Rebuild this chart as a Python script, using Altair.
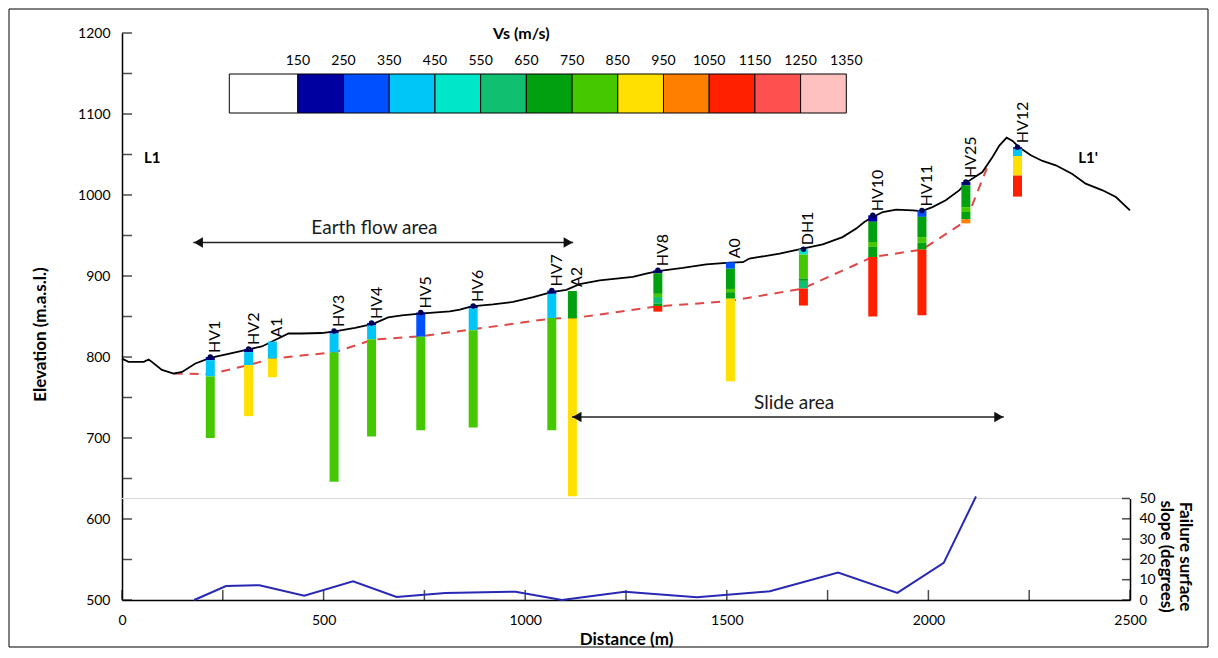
import altair as alt
import pandas as pd

# ---------------- data ----------------
profile_dist = [0, 16, 54, 66, 74, 99, 128, 149, 182, 219, 264, 314, 347, 376, 413, 446, 495, 528,
                578, 623, 660, 694, 739, 813, 838, 867, 920, 970, 1020, 1065, 1102, 1135, 1185,
                1267, 1300, 1329, 1391, 1449, 1507, 1540, 1556, 1581, 1631, 1688, 1738, 1787, 1821,
                1841, 1862, 1887, 1920, 1961, 1984, 2010, 2043, 2077, 2093, 2134, 2159, 2176, 2194,
                2209, 2225, 2254, 2283, 2316, 2357, 2390, 2432, 2465, 2500]
profile_elev = [798, 794, 794, 797, 794, 784, 779.5, 781.5, 792, 799, 804, 809.5, 813, 820, 829, 829,
                829.6, 831.7, 836, 841, 849, 851.5, 853.6, 856.4, 858.5, 862.6, 865, 868, 874, 880,
                883, 890, 894.7, 898.8, 903, 906, 910, 914.4, 916.5, 917, 921.5, 923.5, 927.6, 933.8,
                939, 948, 958.5, 966.7, 972.8, 979, 982, 981, 980, 985, 993.5, 1006, 1015, 1028.4,
                1047, 1061, 1070.8, 1066.7, 1059, 1049, 1042, 1036.7, 1026, 1014, 1005.8, 997.5, 981]

failure_dist = [128, 219, 314, 372, 528, 623, 739, 867, 1065, 1119, 1329, 1507, 1688, 1862, 1984, 2093, 2145]
failure_elev = [779.5, 779, 790, 798, 806, 821.5, 825.5, 834, 847.5, 848, 862.5, 869, 884.5, 923.5, 932.5, 968, 1033]

slope_dist = [179, 258, 341, 452, 573, 681, 802, 976, 1091, 1247, 1426, 1607, 1776, 1923, 2038, 2118]
slope_deg = [0, 6.9, 7.3, 2.1, 9.2, 1.5, 3.5, 4.1, 0, 4.1, 1.3, 4.3, 13.5, 3.5, 18.3, 51]

bh_names = ["HV1", "HV2", "A1", "HV3", "HV4", "HV5", "HV6", "HV7", "A2", "HV8", "A0", "DH1",
            "HV10", "HV11", "HV25", "HV12"]
bh_dist = [219, 314, 373, 526, 619, 741, 871, 1066, 1117, 1329, 1509, 1690, 1862, 1984, 2093, 2221]
bh_bounds = [
    [800, 796, 776, 700],
    [810, 806, 790, 727],
    [819, 798, 775],
    [832, 829, 805.5, 646],
    [842, 839, 822, 702],
    [855, 852, 825, 709.5],
    [863, 860, 833, 713],
    [882, 878, 848, 709.5],
    [881.5, 847.5, 628],
    [907, 903.5, 878, 874, 866, 863, 856],
    [917, 909, 884, 880, 872, 770],
    [933, 926.5, 897, 894, 884.5, 863.5],
    [975, 967, 942, 936, 923.5, 850],
    [981, 973, 948, 941, 932.5, 851.5],
    [1016, 1012, 985, 979, 970, 965],
    [1059, 1057, 1048, 1024, 998],
]
bh_vs = [
    [200, 400, 800],
    [200, 400, 900],
    [400, 900],
    [200, 400, 800],
    [200, 400, 800],
    [200, 300, 800],
    [200, 400, 800],
    [200, 400, 800],
    [700, 900],
    [200, 700, 800, 600, 700, 1100],
    [300, 700, 800, 700, 900],
    [500, 800, 700, 600, 1100],
    [200, 700, 800, 700, 1100],
    [300, 700, 800, 700, 1100],
    [200, 700, 800, 700, 1000],
    [200, 400, 900, 1100],
]
bh_dot = [True, True, False, True, True, True, True, True, False, True, False, True,
          True, True, True, True]

vs_edges = [0, 150, 250, 350, 450, 550, 650, 750, 850, 950, 1050, 1150, 1250, 1350]
vs_labels = [150, 250, 350, 450, 550, 650, 750, 850, 950, 1050, 1150, 1250, 1350]
vs_colors = ["#FFFFFF", "#0000A0", "#0050FF", "#00C6F8", "#00E6C8", "#10C070", "#00A010",
             "#46C800", "#FFE000", "#FF7F00", "#FF2000", "#FF5050", "#FFC0C0"]

arrow_from = [177, 1116]
arrow_to = [1119, 2187]
arrow_elev = [941.5, 726]
area_text = ["Earth flow area", "Slide area"]
area_dist = [626, 1667]
area_elev = [959, 743]
end_text = ["L1", "L1'"]
end_dist = [75, 2396]
end_elev = [1046, 1046]

elev_labels = [500, 600, 700, 800, 900, 1000, 1100, 1200]
elev_ticks = list(range(500, 1201, 50))
dist_labels = [0, 500, 1000, 1500, 2000, 2500]
dist_ticks = list(range(0, 2501, 250))
slope_labels = [0, 10, 20, 30, 40, 50]

# ---------------- layout ----------------
W, H = 1008, 567
FONT = "Lato"


def vs_color(v):
    for i in range(len(vs_edges) - 1):
        if vs_edges[i] <= v < vs_edges[i + 1]:
            return vs_colors[i]
    return vs_colors[-1]


rows = []
for name, d, bounds, vs in zip(bh_names, bh_dist, bh_bounds, bh_vs):
    for i, v in enumerate(vs):
        rows.append({"name": name, "d": d, "top": bounds[i], "bot": bounds[i + 1], "col": vs_color(v)})
bh_df = pd.DataFrame(rows)
tops_df = pd.DataFrame({"name": bh_names, "d": bh_dist, "top": [b[0] for b in bh_bounds], "dot": bh_dot})

xs = alt.Scale(domain=[0, 2500], nice=False, zero=False)
ys = alt.Scale(domain=[500, 1200], nice=False, zero=False)

x_axis = alt.Axis(values=dist_labels, format="d", labelFontSize=14, labelPadding=13, labelFlush=False,
                  title="Distance (m)", titleFontSize=17, titleFontWeight="bold", titlePadding=4)
y_axis = alt.Axis(values=elev_labels, format="d", labelFontSize=14, labelPadding=12,
                  title="Elevation (m.a.s.l.)", titleFontSize=17, titleFontWeight="bold",
                  titleAngle=270, titleX=-82, titleY=301, titleAlign="center", titleBaseline="middle")

prof_df = pd.DataFrame({"d": profile_dist, "e": profile_elev})
profile = alt.Chart(prof_df).mark_line(color="black", strokeWidth=1.8).encode(
    x=alt.X("d:Q", scale=xs, axis=x_axis), y=alt.Y("e:Q", scale=ys, axis=y_axis), order="d:Q")

fail_df = pd.DataFrame({"d": failure_dist, "e": failure_elev})
failure = alt.Chart(fail_df).mark_line(color="#E04848", strokeWidth=2, strokeDash=[9, 7]).encode(
    x=alt.X("d:Q", scale=xs), y=alt.Y("e:Q", scale=ys), order="d:Q")

bars = alt.Chart(bh_df).mark_rule(strokeWidth=9).encode(
    x=alt.X("d:Q", scale=xs), y=alt.Y("top:Q", scale=ys), y2="bot:Q",
    color=alt.Color("col:N", scale=None))

dots = alt.Chart(tops_df).transform_filter("datum.dot").mark_point(
    filled=True, color="#000050", size=30, opacity=1).encode(
    x=alt.X("d:Q", scale=xs), y=alt.Y("top:Q", scale=ys))

names = alt.Chart(tops_df).mark_text(
    angle=270, align="left", baseline="middle", dx=4, dy=5, fontSize=16, font=FONT, color="black").encode(
    x=alt.X("d:Q", scale=xs), y=alt.Y("top:Q", scale=ys), text="name:N")

arr_df = pd.DataFrame({"a": arrow_from, "b": arrow_to, "e": arrow_elev})
arrows = alt.Chart(arr_df).mark_rule(color="#222222", strokeWidth=1.5).encode(
    x=alt.X("a:Q", scale=xs), x2="b:Q", y=alt.Y("e:Q", scale=ys))
head_l = alt.Chart(arr_df).mark_point(shape="triangle-left", filled=True, color="#111111",
                                      size=110, opacity=1, xOffset=5).encode(
    x=alt.X("a:Q", scale=xs), y=alt.Y("e:Q", scale=ys))
head_r = alt.Chart(arr_df).mark_point(shape="triangle-right", filled=True, color="#111111",
                                      size=110, opacity=1, xOffset=-5).encode(
    x=alt.X("b:Q", scale=xs), y=alt.Y("e:Q", scale=ys))

area_df = pd.DataFrame({"t": area_text, "d": area_dist, "e": area_elev})
areas = alt.Chart(area_df).mark_text(fontSize=19, font=FONT, color="#1a1a1a").encode(
    x=alt.X("d:Q", scale=xs), y=alt.Y("e:Q", scale=ys), text="t:N")

end_df = pd.DataFrame({"t": end_text, "d": end_dist, "e": end_elev})
ends = alt.Chart(end_df).mark_text(fontSize=15, font=FONT, fontWeight="bold", color="black").encode(
    x=alt.X("d:Q", scale=xs), y=alt.Y("e:Q", scale=ys), text="t:N")

lt_df = pd.DataFrame({"e": elev_ticks})
left_ticks = alt.Chart(lt_df).mark_tick(color="black", size=10, thickness=1.5).encode(
    y=alt.Y("e:Q", scale=ys), x=alt.value(5))
bt_df = pd.DataFrame({"d": dist_ticks})
bottom_ticks = alt.Chart(bt_df).mark_tick(color="black", size=10, thickness=1.5).encode(
    x=alt.X("d:Q", scale=xs), y=alt.value(H - 5))

frame = alt.Chart(pd.DataFrame({"k": [0]})).mark_rect(
    fillOpacity=0, stroke="black", strokeWidth=1).encode(
    x=alt.value(-113), x2=alt.value(W + 78), y=alt.value(-24), y2=alt.value(H + 47))

main = alt.layer(failure, profile, bars, dots, names, arrows, head_l, head_r, areas, ends,
                 left_ticks, bottom_ticks, frame)

# ---- slope panel (right axis) ----
slope_scale = alt.Scale(domain=[0, 50], range=[H, H - 101.5], nice=False, zero=False)
slope_axis = alt.Axis(orient="right", values=slope_labels, labelFontSize=14, labelPadding=9,
                      title=["Failure surface", "slope (degrees)"], titleFontSize=17,
                      titleFontWeight="bold", titleAngle=90, titleX=54, titleY=523,
                      titleAlign="center", titleBaseline="middle", titleLineHeight=19)
sl_df = pd.DataFrame({"d": slope_dist, "s": slope_deg})
slope_line = alt.Chart(sl_df).mark_line(color="#2828B4", strokeWidth=2, clip=False).encode(
    x=alt.X("d:Q", scale=xs, axis=None), y=alt.Y("s:Q", scale=slope_scale, axis=slope_axis),
    order="d:Q")
top_rule = alt.Chart(pd.DataFrame({"s": [50]})).mark_rule(color="#DADADA", strokeWidth=1).encode(
    y=alt.Y("s:Q", scale=slope_scale), x=alt.value(0), x2=alt.value(W))
st_df = pd.DataFrame({"s": slope_labels})
slope_ticks = alt.Chart(st_df).mark_tick(color="black", size=8, thickness=1.5).encode(
    y=alt.Y("s:Q", scale=slope_scale), x=alt.value(W - 4))
slope = alt.layer(top_rule, slope_line, slope_ticks)

# ---- Vs colour legend ----
leg_scale = alt.Scale(domain=[0, 1350], range=[107.3, 724.3], nice=False, zero=False)
leg_df = pd.DataFrame({"lo": vs_edges[:-1], "hi": vs_edges[1:], "col": vs_colors})
leg_boxes = alt.Chart(leg_df).mark_rect(stroke="black", strokeWidth=1).encode(
    x=alt.X("lo:Q", scale=leg_scale, axis=None), x2="hi:Q",
    y=alt.value(41), y2=alt.value(80), color=alt.Color("col:N", scale=None))
leg_lab = alt.Chart(pd.DataFrame({"v": vs_labels})).mark_text(
    fontSize=14, font=FONT, color="black", baseline="middle").encode(
    x=alt.X("v:Q", scale=leg_scale), y=alt.value(28), text=alt.Text("v:Q", format="d"))
leg_title = alt.Chart(pd.DataFrame({"v": [639], "t": ["Vs (m/s)"]})).mark_text(
    fontSize=16, font=FONT, fontWeight="bold", color="black", baseline="middle").encode(
    x=alt.X("v:Q", scale=leg_scale), y=alt.value(1), text="t:N")
legend = alt.layer(leg_boxes, leg_lab, leg_title)

chart = alt.layer(main, slope, legend).resolve_scale(
    x="independent", y="independent"
).properties(
    width=W, height=H,
    padding={"left": 114, "top": 25, "right": 79, "bottom": 48},
    autosize=alt.AutoSizeParams(type="none"),
).configure_view(stroke=None).configure_axis(
    labelFont=FONT, titleFont=FONT, labelColor="black", titleColor="black",
    domainColor="black", domainWidth=1.5, grid=False, ticks=False
).configure_text(font=FONT)

chart.save("out.html", embed_options={"renderer": "svg", "actions": False})
